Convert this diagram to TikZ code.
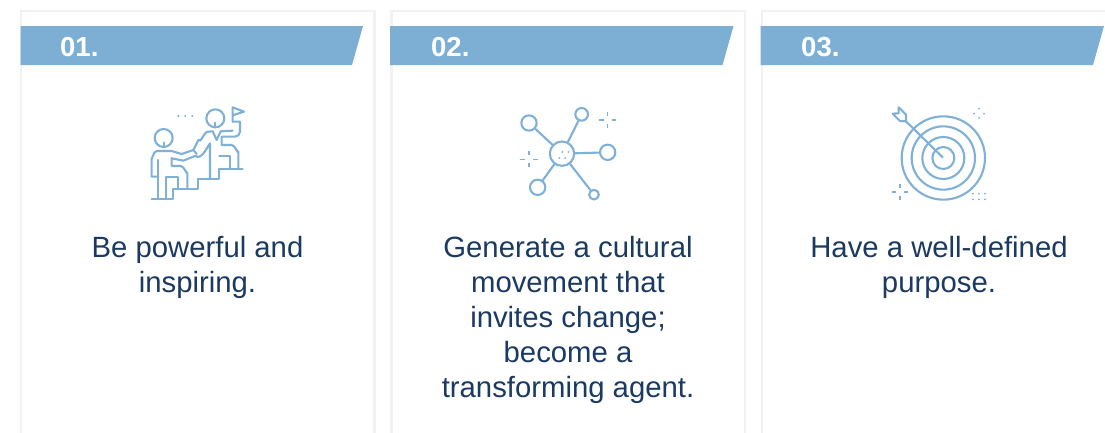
\documentclass[tikz,border=0pt]{standalone}
\usepackage{fontspec}
\setmainfont{Liberation Sans}
\definecolor{bandblue}{HTML}{7DAFD5}
\definecolor{iconblue}{HTML}{7FB1D7}
\definecolor{cardline}{HTML}{F1F1F1}
\definecolor{navy}{HTML}{1B3A62}
\tikzset{
  card/.style={draw=cardline,line width=2.4pt,fill=white},
  band/.style={fill=bandblue,draw=none},
  numlabel/.style={text=white,font=\fontsize{27.5}{30}\selectfont\bfseries,anchor=base west,inner sep=0pt},
  body/.style={text=navy,font=\fontsize{29.3}{35}\selectfont,align=center,anchor=north,inner sep=0pt},
  icon/.style={draw=iconblue,line width=2.1pt,line join=round,line cap=round},
  iconthin/.style={draw=iconblue,line width=1.6pt},
  dotty/.style={fill=iconblue,draw=none}
}
\begin{document}
\begin{tikzpicture}[x=1pt,y=-1pt]
\useasboundingbox (0,0) rectangle (1105,432);
% cards
\path[card] (21,11) -- (374.5,11) -- (374.5,440) -- (21,440) -- cycle;
\path[card] (391.5,11) -- (745,11) -- (745,440) -- (391.5,440) -- cycle;
\path[card] (762,11) -- (1115,11) -- (1115,440) -- (762,440) -- cycle;
% bands
\path[band] (20.5,26) -- (363,26) -- (352,65) -- (20.5,65) -- cycle;
\path[band] (390,26) -- (733.5,26) -- (722.5,65) -- (390,65) -- cycle;
\path[band] (760.5,26) -- (1104,26) -- (1093,65) -- (760.5,65) -- cycle;
\node[numlabel] (n1) at (60,56) {01.};
\node[numlabel] (n2) at (431,56) {02.};
\node[numlabel] (n3) at (801,56) {03.};
\node[body] (t1) at (197.5,236) {Be powerful and\\inspiring.};
\node[body] (t2) at (568,236) {Generate a cultural\\movement that\\invites change;\\become a\\transforming agent.};
\node[body] (t3) at (939,236) {Have a well-defined\\purpose.};
% icon 1
\begin{scope}[shift={(130,90)},x=0.3333pt,y=-0.3333pt]
\draw[icon] (256,85) circle[radius=27];
\draw[icon] (101,144) circle[radius=27];
\draw[icon] (256,112) -- (256,98);
\draw[icon] (101,171) -- (101,158);
\fill[dotty] (145,78) circle[radius=3.5] (166,78) circle[radius=3.5] (187,78) circle[radius=3.5];
\draw[icon] (308,95) -- (308,52) -- (342,65) -- (308,76);
\draw[icon] (308,95) -- (330,95) -- (330,125) arc[start angle=0,end angle=90,radius=15] -- (275,140) -- (275,165) -- (305,165) to[out=0,in=-90] (325,185) -- (325,238);
\draw[icon] (308,122) -- (272,124) -- (260,150) -- (248,124) -- (235,125) to[out=180,in=-60] (205,150) -- (190,180) -- (155,192) -- (125,183) -- (80,183) to[out=180,in=-90] (65,205) -- (65,260) -- (85,260);
\draw[icon] (85,210) -- (85,328);
\draw[icon] (65,328) -- (130,328) -- (130,296) -- (205,296) -- (205,267) -- (268,267) -- (268,238) -- (338,238);
\draw[icon] (108,328) -- (108,260) -- (145,260) -- (145,296);
\draw[icon] (125,205) -- (160,212) -- (195,198) to[out=-30,in=-125] (240,160) -- (240,267);
\draw[icon] (190,180) -- (200,192);
\draw[icon] (125,205) -- (125,228) -- (152,228) to[out=0,in=-90] (172,248) -- (172,296);
\draw[icon] (268,197) -- (300,197) -- (300,238);
\end{scope}
% icon 2
\begin{scope}[shift={(500,90)},x=0.3333pt,y=-0.3333pt]
\node[icon,circle,minimum size=73*0.3333pt,inner sep=0pt] (hub) at (186,191) {};
\node[icon,circle,minimum size=46*0.3333pt,inner sep=0pt] (s1) at (87,99) {};
\node[icon,circle,minimum size=38*0.3333pt,inner sep=0pt] (s2) at (245,73) {};
\node[icon,circle,minimum size=46*0.3333pt,inner sep=0pt] (s3) at (323,187) {};
\node[icon,circle,minimum size=46*0.3333pt,inner sep=0pt] (s4) at (113,292) {};
\node[icon,circle,minimum size=29*0.3333pt,inner sep=0pt] (s5) at (282,314) {};
\foreach \s in {s1,s2,s3,s4,s5} \draw[icon] (hub) -- (\s);
\fill[dotty] (187,186) circle[radius=3] (205,186) circle[radius=3] (178,204) circle[radius=3] (195,204) circle[radius=3];
\foreach \cx/\cy in {323/90,87/208} {
  \draw[iconthin] (\cx-26,\cy) -- (\cx-12,\cy) (\cx+12,\cy) -- (\cx+26,\cy) (\cx,\cy-24) -- (\cx,\cy-12) (\cx,\cy+12) -- (\cx,\cy+24);
}
\end{scope}
% icon 3
\begin{scope}[shift={(875,90)},x=0.3333pt,y=-0.3333pt]
\draw[icon] (205,204) circle[radius=33];
\draw[icon] (205,204) circle[radius=63];
\draw[icon] (205,204) circle[radius=95];
\draw[icon] (205,204) circle[radius=125];
\draw[icon] (203,202) -- (93,94);
\draw[icon] (93,94) -- (93,74) -- (71,52) -- (71,70) -- (53,71) -- (75,93) -- cycle;
\fill[dotty] (297,71) circle[radius=3] (327,71) circle[radius=3] (312,56) circle[radius=3] (312,84) circle[radius=3];
\draw[iconthin] (50,306) -- (63,306) (87,306) -- (100,306) (75,282) -- (75,294) (75,318) -- (75,330);
\fill[dotty] (294,311) circle[radius=3] (312,311) circle[radius=3] (330,311) circle[radius=3] (294,328) circle[radius=3] (312,328) circle[radius=3] (330,328) circle[radius=3];
\end{scope}
\end{tikzpicture}
\end{document}
